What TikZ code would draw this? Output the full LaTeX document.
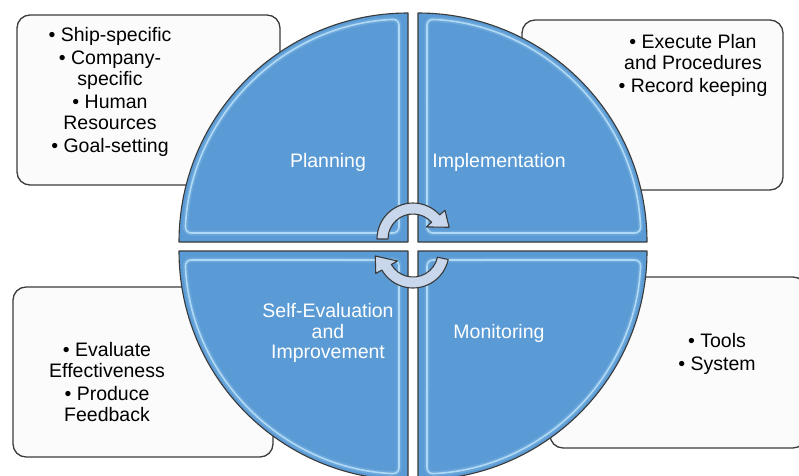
\documentclass[tikz,border=0pt]{standalone}
\usepackage{fontspec}
\setmainfont{Liberation Sans}
\definecolor{quadblue}{HTML}{5B9BD5}
\definecolor{quadline}{HTML}{3A3A3A}
\definecolor{glowcol}{HTML}{CDEFFF}
\definecolor{arrowfill}{HTML}{C8D7EC}
\definecolor{boxfill}{HTML}{FBFBFB}
\definecolor{boxline}{HTML}{3C3C3C}
\begin{document}
\begin{tikzpicture}[x=1pt,y=1pt,
  infobox/.style={draw=boxline, line width=1.3pt, fill=boxfill, rounded corners=13pt},
  quad/.style={fill=quadblue, draw=quadline, line width=1.1pt, line join=round},
  softglow/.style={draw=glowcol, line width=5pt, rounded corners=6pt, opacity=0.15},
  glow/.style={draw=glowcol, line width=1.6pt, rounded corners=6pt, opacity=0.7},
  cyc/.style={fill=arrowfill, draw=quadline, line width=1.1pt, line join=round},
  listtext/.style={font=\fontsize{19.5}{20.5}\selectfont, text=black, align=center, inner sep=0pt},
  quadtext/.style={font=\fontsize{19.5}{20.5}\selectfont, text=white, align=center, inner sep=0pt},
]
\useasboundingbox (0,0) rectangle (799,475);
\fill[white] (0,0) rectangle (799,475);

% note boxes, behind the disc
\draw[infobox] (17,290) rectangle (280,460);
\draw[infobox] (522,285) rectangle (783,455);
\draw[infobox] (13,18) rectangle (273,188);
\draw[infobox] (550,27) rectangle (806,198);

% four quarter discs, each mirrored from the upper-left one
\foreach \sx/\sy/\cx/\cy in {1/1/408/233, -1/1/418/233, 1/-1/408/224, -1/-1/418/224} {
  \begin{scope}[shift={(\cx,\cy)}, xscale=\sx, yscale=\sy]
    \path[quad] (0,0) -- (-229,0) arc[start angle=180, end angle=90, radius=229] -- cycle;
    \path[softglow] (-9,9) -- (177.69:223) arc[start angle=177.69, end angle=92.31, radius=223] -- cycle;
    \path[glow] (-9,9) -- (177.69:223) arc[start angle=177.69, end angle=92.31, radius=223] -- cycle;
  \end{scope}
}

% cycle arrows in the centre
\begin{scope}[shift={(413,236)}]
  \path[cyc] (180:36) arc[start angle=180, end angle=42, radius=36] -- (42:43) -- (18:38)
    -- (42:18) -- (42:25) arc[start angle=42, end angle=180, radius=25] -- cycle;
\end{scope}
\begin{scope}[shift={(413,223)}]
  \path[cyc] (-12:36) arc[start angle=-12, end angle=-150, radius=36] -- (-150:43) -- (-174:38)
    -- (-150:18) -- (-150:25) arc[start angle=-150, end angle=-12, radius=25] -- cycle;
\end{scope}

% quadrant titles
\node[quadtext, anchor=base] (planning) at (328,308) {Planning};
\node[quadtext, anchor=base] (implementation) at (499,308) {Implementation};
\node[quadtext] (selfeval) at (328,141.6) {Self-Evaluation\\and\\Improvement};
\node[quadtext, anchor=base] (monitoring) at (499,137) {Monitoring};

% notes
\node[listtext] (planningnotes) at (110,383) {• Ship-specific\\[3pt] • Company-\\specific\\[3pt] • Human\\Resources\\[3pt] • Goal-setting};
\node[listtext] (implnotes) at (693,409.3) {• Execute Plan\\and Procedures\\[3pt] • Record keeping};
\node[listtext] (evalnotes) at (107,93) {• Evaluate\\Effectiveness\\[3pt] • Produce\\Feedback};
\node[listtext] (monnotes) at (717,121) {• Tools\\[3pt] • System};
\end{tikzpicture}
\end{document}
